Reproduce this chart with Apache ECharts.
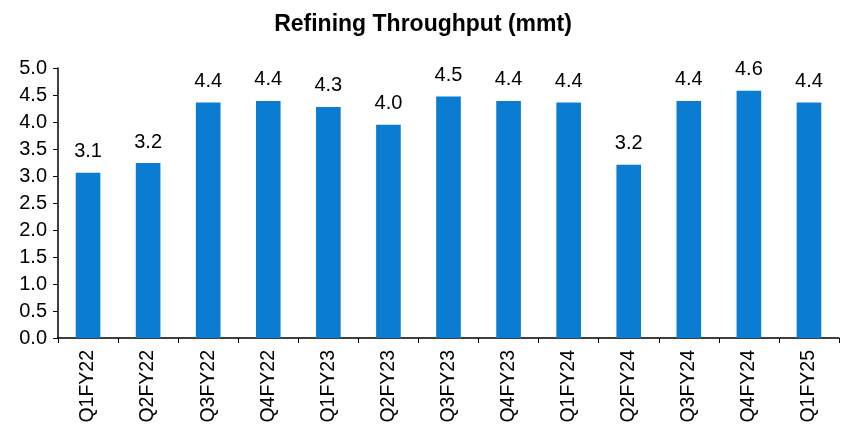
<!DOCTYPE html>
<html><head><meta charset="utf-8">
<script src="https://cdn.jsdelivr.net/npm/echarts@6/dist/echarts.min.js"></script>
<style>html,body{margin:0;padding:0;background:#fff}#c{width:846px;height:432px}</style>
</head><body><div id="c"></div>
<script>
var categories = ['Q1FY22','Q2FY22','Q3FY22','Q4FY22','Q1FY23','Q2FY23','Q3FY23','Q4FY23','Q1FY24','Q2FY24','Q3FY24','Q4FY24','Q1FY25'];
var throughput = [3.06, 3.24, 4.36, 4.39, 4.28, 3.95, 4.47, 4.39, 4.36, 3.21, 4.39, 4.58, 4.36];
var chart = echarts.init(document.getElementById('c'));
var font = 'Liberation Sans, Arial, sans-serif';
chart.setOption({
  animation: false,
  title: { text: 'Refining Throughput (mmt)', left: 'center', top: 8,
    textStyle: { fontFamily: font, fontSize: 23, fontWeight: 'bold', color: '#000' } },
  grid: { left: 58, right: 7, top: 68, bottom: 94, containLabel: false },
  xAxis: {
    type: 'category', data: categories,
    axisLine: { lineStyle: { color: '#000', width: 1.5 } },
    axisTick: { show: true, length: 5, lineStyle: { color: '#000' } },
    axisLabel: { rotate: 90, margin: 12, fontFamily: font, fontSize: 19.5, color: '#000' }
  },
  yAxis: {
    type: 'value', min: 0, max: 5, interval: 0.5,
    splitLine: { show: false },
    axisLine: { show: true, lineStyle: { color: '#000', width: 1.5 } },
    axisTick: { show: true, length: 5, inside: false, lineStyle: { color: '#000' } },
    axisLabel: { margin: 11, fontFamily: font, fontSize: 20, color: '#000',
      formatter: function (v) { return v.toFixed(1); } }
  },
  series: [{
    type: 'bar', data: throughput, barWidth: '41%',
    itemStyle: { color: '#0A7DD2' },
    label: { show: true, position: 'top', distance: 11, fontFamily: font, fontSize: 20, color: '#000',
      formatter: function (p) { return p.value.toFixed(1); } }
  }]
});
</script></body></html>
